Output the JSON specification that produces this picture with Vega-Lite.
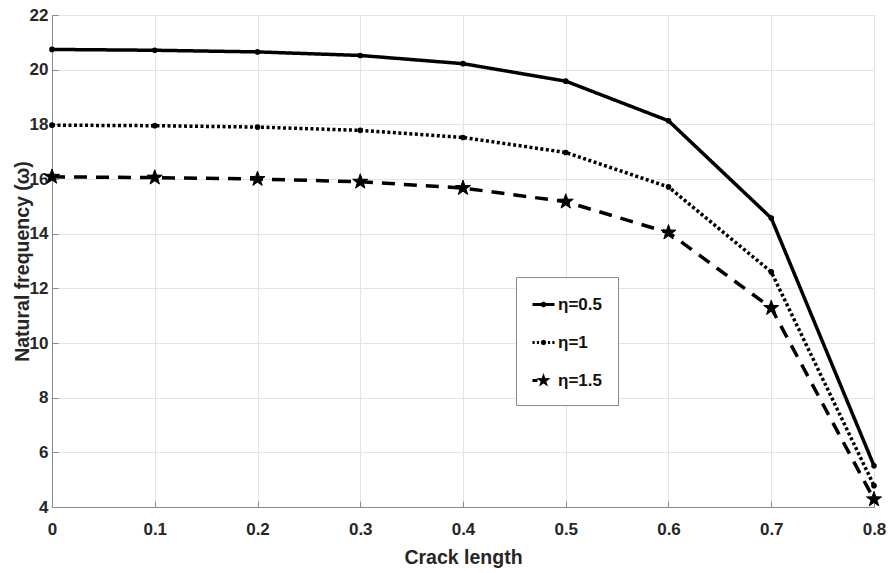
{
  "$schema": "https://vega.github.io/schema/vega-lite/v6.json",
  "width": 822,
  "height": 492,
  "autosize": {"type": "none"},
  "padding": {"left": 52, "top": 15, "right": 15, "bottom": 66},
  "background": "white",
  "config": {
    "view": {"stroke": "#8a8a8a", "strokeWidth": 1},
    "axis": {
      "labelFont": "Liberation Sans",
      "labelFontWeight": "bold",
      "labelFontSize": 17,
      "labelColor": "#262626",
      "titleFont": "Liberation Sans",
      "titleFontWeight": "bold",
      "titleFontSize": 19.5,
      "titleColor": "#262626",
      "gridColor": "#e4e4e4",
      "gridWidth": 1,
      "domainColor": "#8a8a8a",
      "tickColor": "#8a8a8a",
      "tickSize": -6
    }
  },
  "data": {
    "values": [
      {"x": 0, "y": 20.74, "s": "η=0.5"},
      {"x": 0.1, "y": 20.71, "s": "η=0.5"},
      {"x": 0.2, "y": 20.65, "s": "η=0.5"},
      {"x": 0.3, "y": 20.52, "s": "η=0.5"},
      {"x": 0.4, "y": 20.22, "s": "η=0.5"},
      {"x": 0.5, "y": 19.58, "s": "η=0.5"},
      {"x": 0.6, "y": 18.13, "s": "η=0.5"},
      {"x": 0.7, "y": 14.57, "s": "η=0.5"},
      {"x": 0.8, "y": 5.51, "s": "η=0.5"},
      {"x": 0, "y": 17.97, "s": "η=1"},
      {"x": 0.1, "y": 17.95, "s": "η=1"},
      {"x": 0.2, "y": 17.9, "s": "η=1"},
      {"x": 0.3, "y": 17.78, "s": "η=1"},
      {"x": 0.4, "y": 17.52, "s": "η=1"},
      {"x": 0.5, "y": 16.97, "s": "η=1"},
      {"x": 0.6, "y": 15.71, "s": "η=1"},
      {"x": 0.7, "y": 12.6, "s": "η=1"},
      {"x": 0.8, "y": 4.78, "s": "η=1"},
      {"x": 0, "y": 16.08, "s": "η=1.5"},
      {"x": 0.1, "y": 16.05, "s": "η=1.5"},
      {"x": 0.2, "y": 16.0, "s": "η=1.5"},
      {"x": 0.3, "y": 15.9, "s": "η=1.5"},
      {"x": 0.4, "y": 15.67, "s": "η=1.5"},
      {"x": 0.5, "y": 15.17, "s": "η=1.5"},
      {"x": 0.6, "y": 14.04, "s": "η=1.5"},
      {"x": 0.7, "y": 11.28, "s": "η=1.5"},
      {"x": 0.8, "y": 4.28, "s": "η=1.5"}
    ]
  },
  "encoding": {
    "x": {
      "field": "x",
      "type": "quantitative",
      "scale": {"domain": [0, 0.8], "nice": false},
      "axis": {
        "title": "Crack length",
        "values": [0, 0.1, 0.2, 0.3, 0.4, 0.5, 0.6, 0.7, 0.8],
        "format": "~g",
        "labelPadding": 20,
        "titlePadding": 11,
        "labelFlush": false
      }
    },
    "y": {
      "field": "y",
      "type": "quantitative",
      "scale": {"domain": [4, 22], "nice": false, "zero": false},
      "axis": {
        "title": "Natural frequency (ω)",
        "values": [4, 6, 8, 10, 12, 14, 16, 18, 20, 22],
        "labelPadding": 10,
        "titleX": -20,
        "labelFlush": false
      }
    }
  },
  "layer": [
    {
      "mark": {"type": "line", "color": "black", "strokeWidth": 3.5},
      "encoding": {
        "detail": {"field": "s"},
        "strokeDash": {
          "field": "s",
          "type": "nominal",
          "scale": {"domain": ["η=0.5", "η=1", "η=1.5"], "range": [[1, 0], [3, 2.5], [13, 9]]},
          "legend": null
        }
      }
    },
    {
      "transform": [{"filter": {"field": "s", "oneOf": ["η=0.5", "η=1"]}}],
      "mark": {"type": "circle", "color": "black", "size": 32, "opacity": 1}
    },
    {
      "transform": [{"filter": {"field": "s", "equal": "η=1.5"}}],
      "mark": {
        "type": "point",
        "filled": true,
        "color": "black",
        "stroke": "black",
        "strokeWidth": 1,
        "opacity": 1,
        "size": 250,
        "shape": "M0,-1L0.235,-0.324L0.951,-0.309L0.38,0.124L0.588,0.809L0,0.4L-0.588,0.809L-0.38,0.124L-0.951,-0.309L-0.235,-0.324Z"
      }
    },
    {
      "mark": {"type": "point", "filled": true, "color": "black", "opacity": 0},
      "encoding": {
        "shape": {
          "field": "s",
          "type": "nominal",
          "scale": {"domain": ["η=0.5", "η=1", "η=1.5"], "range": [
            "M-1,-0.14L1,-0.14L1,0.14L-1,0.14ZM0.27,0L0.19,0.19L0,0.27L-0.19,0.19L-0.27,0L-0.19,-0.19L0,-0.27L0.19,-0.19Z",
            "M-1,-0.13L-0.8,-0.13L-0.8,0.13L-1,0.13ZM-0.6,-0.13L-0.4,-0.13L-0.4,0.13L-0.6,0.13ZM0.4,-0.13L0.6,-0.13L0.6,0.13L0.4,0.13ZM0.8,-0.13L1,-0.13L1,0.13L0.8,0.13ZM0.25,0L0.177,0.177L0,0.25L-0.177,0.177L-0.25,0L-0.177,-0.177L0,-0.25L0.177,-0.177Z",
            "M-1,-0.14L-0.55,-0.14L-0.55,0.14L-1,0.14ZM0,-0.68L0.16,-0.22L0.647,-0.21L0.258,0.084L0.4,0.55L0,0.272L-0.4,0.55L-0.258,0.084L-0.647,-0.21L-0.16,-0.22Z"
          ]},
          "legend": {
            "title": null,
            "orient": "none",
            "legendX": 464,
            "legendY": 262,
            "padding": 16,
            "rowPadding": 18,
            "strokeColor": "#8a8a8a",
            "fillColor": "white",
            "symbolSize": 484,
            "symbolFillColor": "black",
            "symbolStrokeColor": "black",
            "symbolStrokeWidth": 0.5,
            "symbolOpacity": 1,
            "labelFont": "Liberation Sans",
            "labelFontWeight": "bold",
            "labelFontSize": 17,
            "labelColor": "#111",
            "labelOffset": 3
          }
        }
      }
    }
  ],
  "resolve": {"scale": {"shape": "independent"}, "legend": {"shape": "independent"}}
}
